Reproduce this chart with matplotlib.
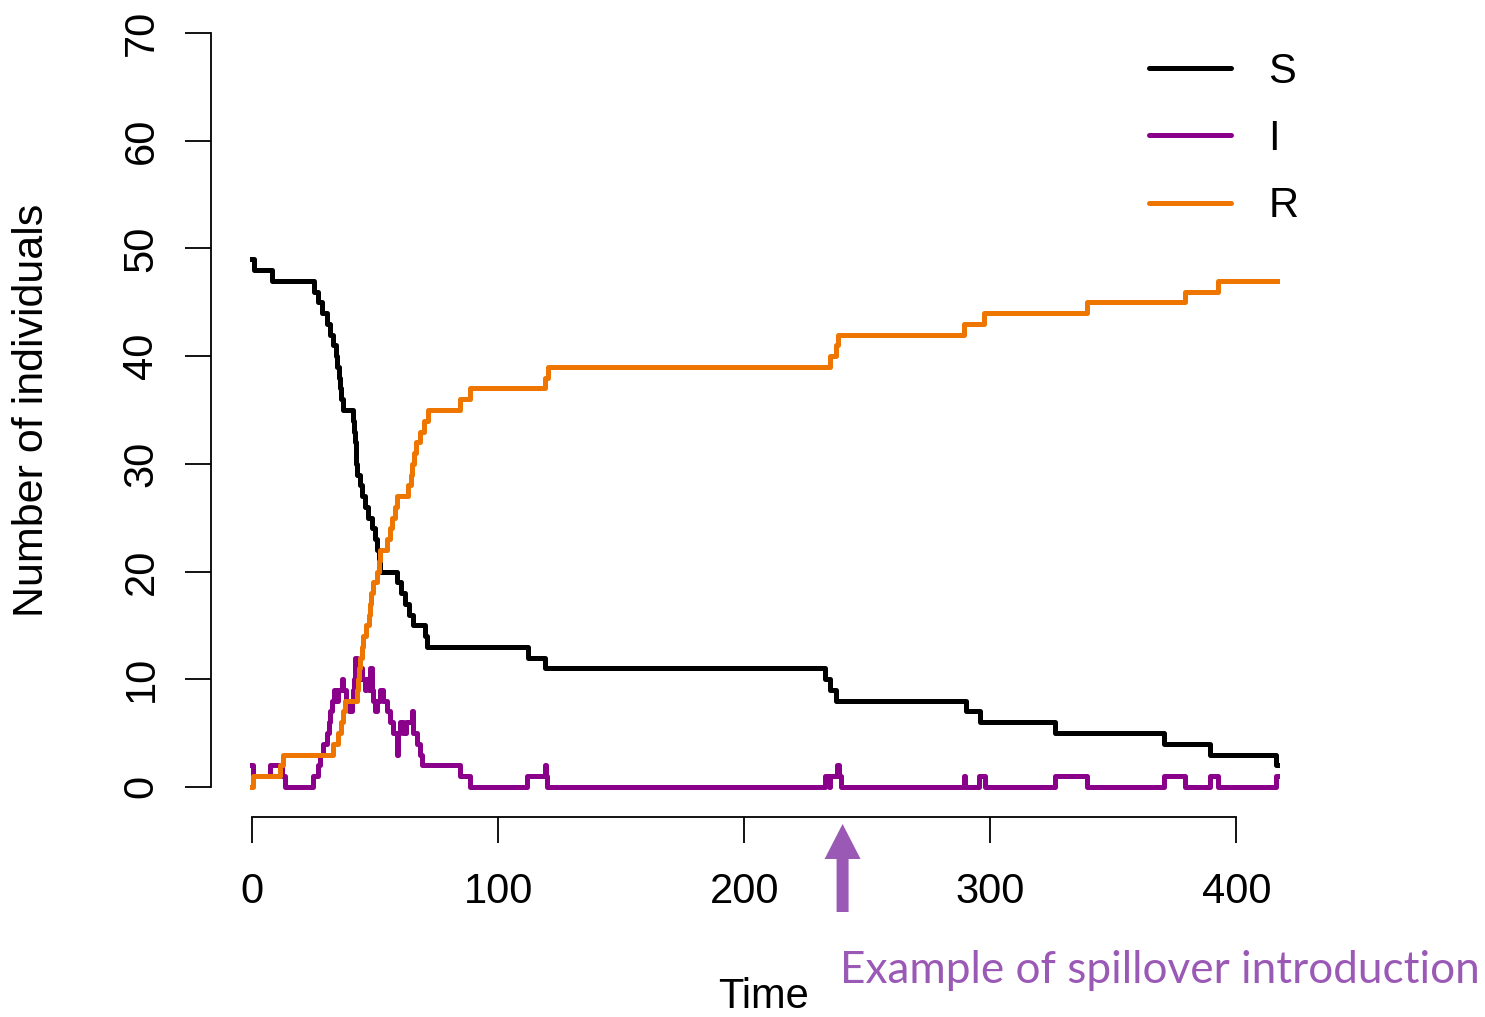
import numpy as np
import matplotlib
matplotlib.use("Agg")
import matplotlib.pyplot as plt
from matplotlib.patches import FancyArrow
from matplotlib.transforms import IdentityTransform

plt.rcParams['font.family'] = ['Liberation Sans', 'DejaVu Sans']

# Trayectoria estocastica SIR (escalones)
t_S = [0, 1, 8, 25, 27, 28.5, 30.5, 31.7, 33, 34, 34.5, 35.3, 35.8, 36.3, 36.8,
       41, 41.4, 41.8, 42.1, 42.4, 42.8, 44, 44.7, 46, 47, 48.8, 50, 51, 51.6, 52.2,
       59, 60.5, 62, 64, 65.5, 70.5, 71, 112, 119, 233, 235, 237.5, 290, 296,
       326.5, 370.5, 389.5, 416.3, 416.5]
S = [49, 48, 47, 46, 45, 44, 43, 42, 41, 40, 39, 38, 37, 36, 35,
     34, 33, 32, 31, 30, 29, 28, 27, 26, 25, 24, 23, 22, 21, 20,
     19, 18, 17, 16, 15, 14, 13, 12, 11, 10, 9, 8, 7, 6,
     5, 4, 3, 2, 2]

t_I = [0, 0.3, 7.3, 12.2, 13.4, 24.9, 26.9, 27.6, 29, 30.4, 31.2, 31.7, 32.4, 33.5,
       34.3, 35.1, 36.4, 36.9, 38, 39.3, 40.5, 41, 41.4, 41.7, 41.9, 42.6, 43.5,
       44.3, 44.8, 45.9, 46.5, 47.5, 48, 48.6, 49.3, 50, 51, 52, 53.4, 54.7, 56.1,
       57.4, 58.8, 59.2, 60.2, 61.5, 62.5, 64.9, 65.6, 66.9, 68.3, 69, 84.6, 88.6,
       111.7, 119.1, 119.6, 120, 233, 234.4, 234.8, 237.8, 238.5, 239.3, 289.2,
       289.7, 295.3, 298, 326.5, 339.4, 370.5, 379.3, 389.5, 392.7, 416.3, 416.5]
I = [2, 1, 2, 1, 0, 1, 2, 3, 4, 5, 6, 7, 8, 9,
     8, 9, 10, 9, 8, 7, 8, 9, 10, 11, 12, 11, 10,
     11, 10, 9, 10, 9, 11, 9, 8, 7, 8, 9, 8, 7, 6,
     5, 3, 5, 6, 5, 6, 7, 5, 4, 3, 2, 1, 0,
     1, 2, 1, 0, 1, 0, 1, 2, 1, 0, 1,
     0, 1, 0, 1, 0, 1, 0, 1, 0, 1, 1]

t_R = [0, 0.5, 11.4, 12.8, 33, 35, 36, 37, 37.8, 42.6, 43, 43.4, 44, 44.5, 45,
       46.5, 47.5, 48, 48.5, 49, 50.6, 51.5, 52, 54.7, 56, 56.8, 58, 59, 63.4,
       64.5, 65, 66, 66.5, 68.3, 69.8, 71.5, 84.5, 88.6, 119, 120.3, 235, 237.5,
       238, 289.5, 297.5, 339.4, 379.3, 392.7, 416.5]
R = [0, 1, 2, 3, 4, 5, 6, 7, 8, 9, 10, 11, 12, 13, 14,
     15, 16, 17, 18, 19, 20, 21, 22, 23, 24, 25, 26, 27, 28,
     29, 30, 31, 32, 33, 34, 35, 36, 37, 38, 39, 40, 41,
     42, 43, 44, 45, 46, 47, 47]

x_ticks = [0, 100, 200, 300, 400]
y_ticks = [0, 10, 20, 30, 40, 50, 60, 70]
t_spill = 240

W, H = 1485, 1017
fig = plt.figure(figsize=(W / 100, H / 100), dpi=100)
ax = fig.add_axes([211 / W, 1 - 817 / H, (1318 - 211) / W, (817 - 3) / H])

lw = 3.6
ax.step(t_S, S, where='post', color='black', lw=lw, label='S')
ax.step(t_I, I, where='post', color='#8B008B', lw=lw, label='I')
ax.step(t_R, R, where='post', color='#EE7600', lw=lw, label='R')

ax.set_xlim(-16.66, 433.2)
ax.set_ylim(-2.8, 72.8)
for s in ['top', 'right']:
    ax.spines[s].set_visible(False)
ax.spines['left'].set_bounds(0, 70)
ax.spines['bottom'].set_bounds(0, 400)
ax.spines['left'].set_linewidth(1.3)
ax.spines['bottom'].set_linewidth(1.3)
ax.set_xticks(x_ticks)
ax.set_yticks(y_ticks)
ax.tick_params(axis='both', direction='out', length=18.7, width=1.3, labelsize=30)
ax.tick_params(axis='x', pad=21)
ax.tick_params(axis='y', pad=17)
plt.setp(ax.get_yticklabels(), rotation=90, va='center')

fig.text(32 / W, 1 - 410 / H, 'Number of individuals', rotation=90,
         ha='center', va='center', fontsize=31)
fig.text(764 / W, 1 - 1008 / H, 'Time', ha='center', va='baseline', fontsize=30)

leg = ax.legend(loc='center left', bbox_to_anchor=(1149 / W, 1 - 139 / H),
                bbox_transform=fig.transFigure, frameon=False, fontsize=30,
                handlelength=1.97, handletextpad=0.89, labelspacing=0.65,
                borderpad=0, borderaxespad=0)
for h in leg.get_lines():
    h.set_solid_capstyle('round')

# flecha de la introduccion por spillover
x_arr = ax.transData.transform((t_spill, 0))[0]
flecha = FancyArrow(x_arr, H - 912, 0, 88, width=12, head_width=36, head_length=35,
                    length_includes_head=True, color='#9B59B6', lw=0,
                    transform=IdentityTransform())
fig.add_artist(flecha)
fig.text(840 / W, 1 - 982.7 / H, 'Example of spillover introduction', color='#9B59B6',
         ha='left', va='baseline', fontsize=31.8, family=['Lato', 'DejaVu Sans'])

fig.savefig('out.png', dpi=100)
